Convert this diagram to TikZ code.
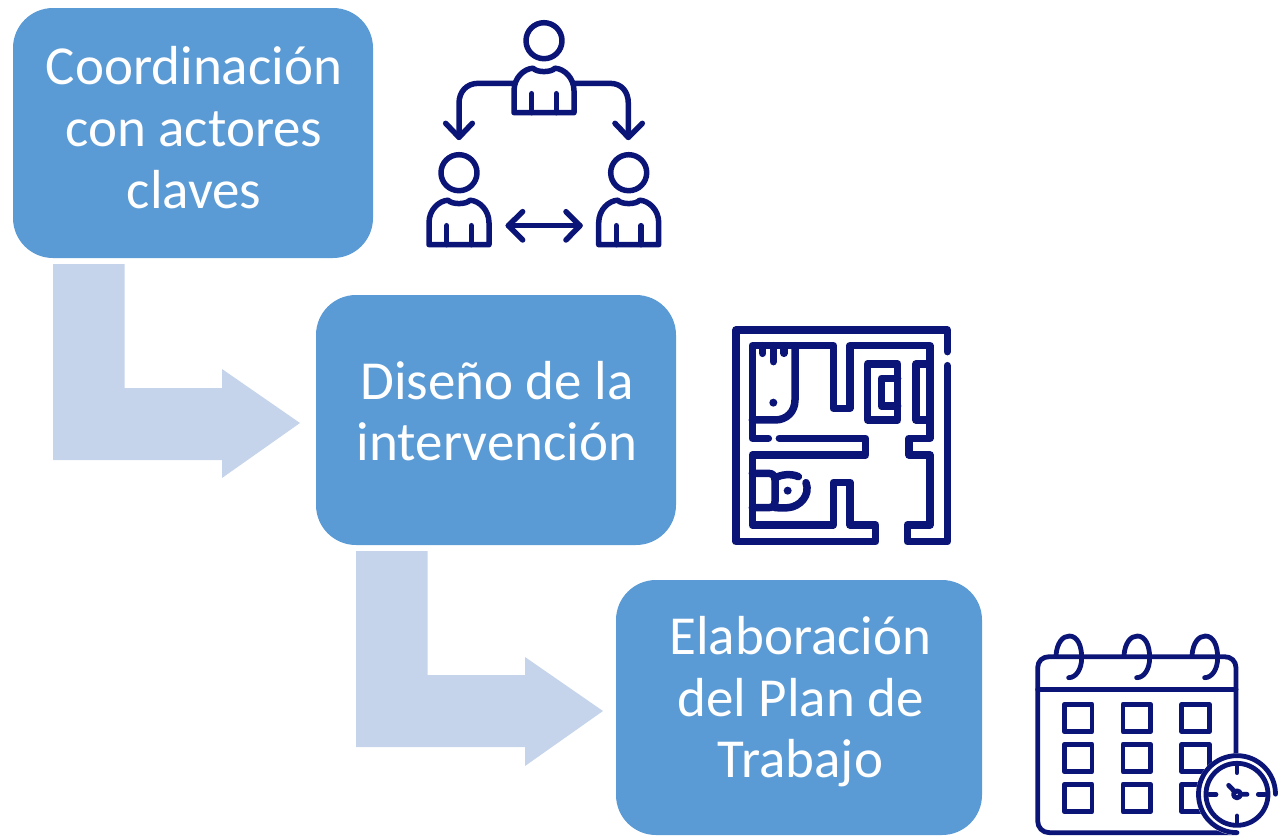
\documentclass[tikz,border=0pt]{standalone}
\usepackage{fontspec}
\setmainfont{Carlito}
\definecolor{boxblue}{HTML}{5B9BD5}
\definecolor{flow}{HTML}{C5D4EB}
\definecolor{navy}{HTML}{0B1477}
\tikzset{
  stepbox/.style={fill=boxblue,rounded corners=40pt,text=white,align=center,inner sep=0pt,
    font=\fontsize{55}{61.7}\selectfont},
  flowarrow/.style={fill=flow,draw=none},
  ink/.style={draw=navy,line cap=round,line join=round,fill=none},
  dotmark/.style={fill=navy,draw=none}
}
\newcommand{\personicon}[2]{%
  \begin{scope}[shift={(#1,#2)}]
    \draw[ink,line width=5.5pt] (0,-72) circle (18pt);
    \draw[ink,line width=5.5pt] (-30,0) -- (-30,-22) .. controls (-30,-35) and (-20,-44) .. (-11,-44.5)
      .. controls (-7,-40) and (7,-40) .. (11,-44.5)
      .. controls (20,-44) and (30,-35) .. (30,-22) -- (30,0) -- cycle;
    \draw[ink,line width=5.5pt] (-12.3,0) -- (-12.3,-19) (12.3,0) -- (12.3,-19);
  \end{scope}}
\begin{document}
\begin{tikzpicture}[x=1pt,y=-1pt]
\useasboundingbox (0,0) rectangle (1281,836);
% flow arrows
\path[flowarrow] (53,264) -- (124.5,264) -- (124.5,388) -- (222,388) -- (222,369) -- (300,423) -- (222,478) -- (222,460) -- (53,460) -- cycle;
\path[flowarrow] (356,551) -- (427.5,551) -- (427.5,675) -- (525,675) -- (525,657) -- (603,711) -- (525,766) -- (525,747) -- (356,747) -- cycle;
% boxes
\node[stepbox,minimum width=360pt,minimum height=250pt] (coord) at (193,133) {\hspace*{2pt}\parbox{340pt}{\centering Coordinación\\con actores\\claves\rule[-11pt]{0pt}{0pt}}};
\node[stepbox,minimum width=360pt,minimum height=250pt] (dis) at (496,420) {\hspace*{2pt}\parbox{340pt}{\centering Diseño de la\\intervención\rule[-18pt]{0pt}{0pt}}};
\node[stepbox,minimum width=366pt,minimum height=255pt] (plan) at (799,707.5) {\hspace*{3pt}\parbox{340pt}{\centering Elaboración\\del Plan de\\Trabajo\rule[-21pt]{0pt}{0pt}}};
% people icon
\personicon{544}{112.7}
\personicon{459}{244.7}
\personicon{628.7}{244.7}
\begin{scope}[shift={(410,10)},x=0.3333pt,y=-0.3333pt]
  \draw[ink,line width=5.5pt] (312,220) -- (205,220) .. controls (170,220) and (147,245) .. (147,280) -- (147,382);
  \draw[ink,line width=5.5pt] (107,340) -- (147,382) -- (187,340);
  \draw[ink,line width=5.5pt] (492,220) -- (600,220) .. controls (635,220) and (655,245) .. (655,280) -- (655,382);
  \draw[ink,line width=5.5pt] (615,340) -- (655,382) -- (697,340);
  \draw[ink,line width=5.5pt] (295,647) -- (510,647);
  \draw[ink,line width=5.5pt] (338,605) -- (295,647) -- (338,690);
  \draw[ink,line width=5.5pt] (468,605) -- (510,647) -- (468,690);
\end{scope}
% floor plan icon
\begin{scope}[shift={(720,315)},x=0.3333pt,y=-0.3333pt,ink,line width=7.5pt]
  \draw (682,110) -- (682,45) -- (48,45) -- (48,680) -- (467,680) -- (467,630) -- (390,630) -- (390,502) -- (340,502) -- (340,630) -- (97,630) -- (97,420) -- (437,420) -- (437,370) -- (178,370);
  \draw (682,152) -- (682,680) -- (562,680) -- (562,630) -- (630,630) -- (630,420) -- (567,420) -- (567,370) -- (630,370) -- (630,92) -- (390,92) -- (390,280) -- (340,280) -- (340,92) -- (97,92) -- (97,370) -- (145,370);
  \draw (97,315) -- (165,315) .. controls (200,315) and (225,290) .. (225,255) -- (225,92);
  \draw (128,92) -- (128,115) (160,92) -- (160,140) (192,92) -- (192,115);
  \path[dotmark] (160,263) circle (4pt) (203,527) circle (4pt);
  \draw (443,147) rectangle (533,315);
  \draw (533,190) -- (484,190) -- (484,273) -- (533,273);
  \draw (630,147) -- (588,147) -- (588,315) -- (630,315);
  \draw (97,475) -- (145,475) .. controls (158,475) and (165,482) .. (165,495) -- (165,560) .. controls (165,572) and (158,578) .. (145,578) -- (97,578);
  \draw (165,490) .. controls (180,478) and (215,475) .. (235,485);
  \draw (258,503) .. controls (272,540) and (240,575) .. (205,578) .. controls (190,580) and (175,578) .. (165,578);
\end{scope}
% calendar icon
\begin{scope}[shift={(1021,626)},x=0.3333pt,y=-0.3333pt,ink,line width=4.8pt]
  \draw (645,400) -- (645,125) .. controls (645,105) and (630,92) .. (610,92) -- (85,92) .. controls (65,92) and (50,105) .. (50,125) -- (50,585) .. controls (50,605) and (65,620) .. (85,620) -- (645,620);
  \draw (50,190) -- (645,190);
  \foreach \rx in {0,204,408}{
    \draw[xshift=\rx*0.3333pt] (105,88) .. controls (108,50) and (125,30) .. (145,30) .. controls (170,30) and (182,60) .. (182,95) .. controls (182,130) and (165,155) .. (143,155);
  }
  \foreach \qx in {130,306,482}{
    \foreach \qy in {235,355,475}{
      \draw (\qx,\qy) rectangle ++(83,82);
    }
  }
  \fill[white,draw=none] (648,505) circle (41pt);
  \draw (648,620) arc[start angle=270,end angle=0,radius=38.5pt];
  \draw (648,505) circle (31pt);
  \draw (648,420) -- (648,440) (648,570) -- (648,592) (565,505) -- (585,505) (712,505) -- (732,505);
  \draw (623,478) -- (642,498) (660,505) -- (678,505);
  \draw (648,505) circle (3.5pt);
\end{scope}
\end{tikzpicture}
\end{document}
